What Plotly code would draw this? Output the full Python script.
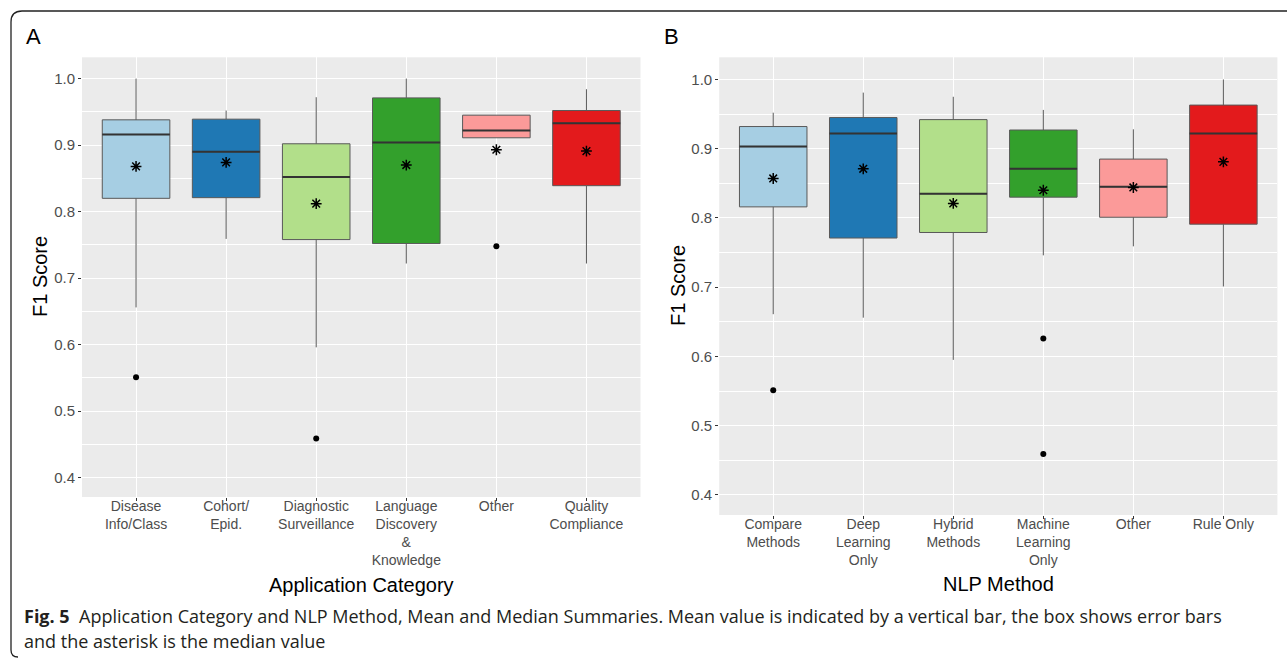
import plotly.graph_objects as go

W, H = 1287, 659

# ---------------- Data: Panel A (Application Category) ----------------
cats_a = ["Disease<br>Info/Class", "Cohort/<br>Epid.", "Diagnostic<br>Surveillance",
          "Language<br>Discovery<br>&<br>Knowledge", "Other", "Quality<br>Compliance"]
a_low = [0.656, 0.759, 0.596, 0.722, 0.911, 0.722]
a_q1 = [0.820, 0.821, 0.758, 0.752, 0.911, 0.839]
a_med = [0.916, 0.890, 0.852, 0.904, 0.922, 0.933]
a_q3 = [0.938, 0.939, 0.902, 0.971, 0.945, 0.952]
a_high = [1.000, 0.952, 0.972, 1.000, 0.945, 0.984]
a_mean = [0.868, 0.874, 0.812, 0.870, 0.893, 0.891]
a_out_cat = [0, 2, 4]
a_out_val = [0.551, 0.459, 0.748]

# ---------------- Data: Panel B (NLP Method) ----------------
cats_b = ["Compare<br>Methods", "Deep<br>Learning<br>Only", "Hybrid<br>Methods",
          "Machine<br>Learning<br>Only", "Other", "Rule Only"]
b_low = [0.661, 0.656, 0.595, 0.746, 0.759, 0.701]
b_q1 = [0.816, 0.771, 0.779, 0.830, 0.801, 0.791]
b_med = [0.903, 0.922, 0.835, 0.871, 0.845, 0.922]
b_q3 = [0.932, 0.945, 0.942, 0.927, 0.885, 0.963]
b_high = [0.952, 0.981, 0.975, 0.956, 0.928, 1.000]
b_mean = [0.857, 0.871, 0.821, 0.840, 0.844, 0.881]
b_out_cat = [0, 3, 3]
b_out_val = [0.551, 0.626, 0.459]

colors = ["#A6CEE3", "#1F78B4", "#B2DF8A", "#33A02C", "#FB9A99", "#E31A1C"]

y_ticks = [0.4, 0.5, 0.6, 0.7, 0.8, 0.9, 1.0]
y_ticktext = ["0.4", "0.5", "0.6", "0.7", "0.8", "0.9", "1.0"]
y_minor = [0.45, 0.55, 0.65, 0.75, 0.85, 0.95]

BOX_W = 0.75

fig = go.Figure()


def add_panel(xa, ya, low, q1, med, q3, high, mean, out_cat, out_val):
    n = len(med)
    for i in range(n):
        fig.add_trace(go.Box(
            x=[i], q1=[q1[i]], median=[med[i]], q3=[q3[i]],
            lowerfence=[low[i]], upperfence=[high[i]],
            width=BOX_W, whiskerwidth=0, boxpoints=False,
            fillcolor=colors[i], line=dict(color="#595959", width=1),
            xaxis=xa, yaxis=ya, showlegend=False, hoverinfo="skip"))
    # thick median lines (ggplot style)
    mx, my = [], []
    for i in range(n):
        mx += [i - BOX_W / 2, i + BOX_W / 2, None]
        my += [med[i], med[i], None]
    fig.add_trace(go.Scatter(x=mx, y=my, mode="lines",
                             line=dict(color="#333333", width=2),
                             xaxis=xa, yaxis=ya, showlegend=False, hoverinfo="skip"))
    # outliers
    fig.add_trace(go.Scatter(x=out_cat, y=out_val, mode="markers",
                             marker=dict(color="black", size=6, symbol="circle"),
                             xaxis=xa, yaxis=ya, showlegend=False))
    # mean asterisks
    fig.add_trace(go.Scatter(x=list(range(n)), y=mean, mode="markers",
                             marker=dict(symbol="asterisk-open", size=9, color="black",
                                         line=dict(color="black", width=1.5)),
                             xaxis=xa, yaxis=ya, showlegend=False))


add_panel("x", "y", a_low, a_q1, a_med, a_q3, a_high, a_mean, a_out_cat, a_out_val)
add_panel("x2", "y2", b_low, b_q1, b_med, b_q3, b_high, b_mean, b_out_cat, b_out_val)

tickfont = dict(family="Liberation Sans, Arial, sans-serif", size=14, color="#4D4D4D")
ytickfont = dict(family="Liberation Sans, Arial, sans-serif", size=15, color="#4D4D4D")


def xaxis_cfg(dom, cats, anchor):
    return dict(domain=dom, anchor=anchor, range=[-0.6, 5.6],
                tickmode="array", tickvals=list(range(len(cats))), ticktext=cats,
                showgrid=True, gridcolor="white", gridwidth=1.2, zeroline=False,
                ticks="outside", ticklen=3, tickcolor="#333333", tickwidth=1,
                tickfont=tickfont, showline=False, fixedrange=True,
                ticklabelstandoff=-7)


def yaxis_cfg(dom, anchor):
    return dict(domain=dom, anchor=anchor, range=[0.371, 1.032],
                tickmode="array", tickvals=y_ticks, ticktext=y_ticktext,
                showgrid=True, gridcolor="white", gridwidth=1.2, zeroline=False,
                ticks="outside", ticklen=3, tickcolor="#333333", tickwidth=1,
                tickfont=ytickfont, showline=False, fixedrange=True,
                minor=dict(tickmode="array", tickvals=y_minor, showgrid=True,
                           gridcolor="white", gridwidth=0.6, ticks=""))


def px(x):
    return x / W


def py(y):
    return 1 - y / H


fig.update_layout(
    width=W, height=H,
    margin=dict(l=0, r=0, t=0, b=0),
    paper_bgcolor="white", plot_bgcolor="#EBEBEB",
    showlegend=False,
    xaxis=xaxis_cfg([px(82), px(640.5)], cats_a, "y"),
    yaxis=yaxis_cfg([py(497), py(57.3)], "x"),
    xaxis2=xaxis_cfg([px(719.2), px(1277.4)], cats_b, "y2"),
    yaxis2=yaxis_cfg([py(515), py(57.3)], "x2"),
)

ann = [
    dict(text="A", x=px(33), y=py(36), size=22),
    dict(text="B", x=px(671), y=py(36), size=22),
    dict(text="F1 Score", x=px(40), y=py(277), size=20, angle=-90),
    dict(text="F1 Score", x=px(678), y=py(286), size=20, angle=-90),
    dict(text="Application Category", x=px(361), y=py(585), size=20),
    dict(text="NLP Method", x=px(998), y=py(584), size=20),
]
for a in ann:
    fig.add_annotation(text=a["text"], x=a["x"], y=a["y"], xref="paper", yref="paper",
                       xanchor="center", yanchor="middle", showarrow=False,
                       textangle=a.get("angle", 0),
                       font=dict(family="Liberation Sans, Arial, sans-serif",
                                 size=a["size"], color="black"))

cap_font = dict(family="Open Sans, sans-serif", size=18, color="#231F20")
fig.add_annotation(
    text="<b>Fig. 5</b>  Application Category and NLP Method, Mean and Median Summaries. "
         "Mean value is indicated by a vertical bar, the box shows error bars",
    x=px(22), y=py(616), xref="paper", yref="paper", xanchor="left", yanchor="middle",
    showarrow=False, font=cap_font)
fig.add_annotation(
    text="and the asterisk is the median value",
    x=px(22), y=py(641), xref="paper", yref="paper", xanchor="left", yanchor="middle",
    showarrow=False, font=cap_font)

# rounded frame around the figure
path = (f"M {px(1300)} {py(11)} L {px(22)} {py(11)} "
        f"Q {px(11)} {py(11)} {px(11)} {py(22)} "
        f"L {px(11)} {py(650)} Q {px(11)} {py(657)} {px(18)} {py(657)}")
fig.add_shape(type="path", path=path, xref="paper", yref="paper",
              line=dict(color="#222222", width=1.3))

fig.write_html("out.html",
               config={"displayModeBar": False},
               post_script="document.body.style.margin='0';"
                           "document.body.style.overflow='hidden';")
